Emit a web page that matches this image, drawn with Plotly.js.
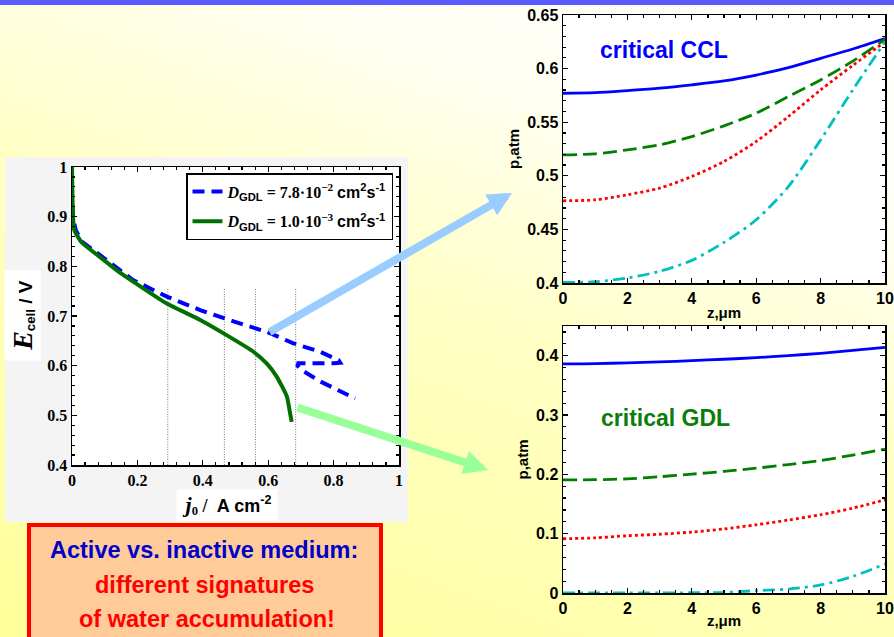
<!DOCTYPE html>
<html><head><meta charset="utf-8">
<script src="https://cdn.plot.ly/plotly-3.0.1.min.js"></script>
<style>
html,body{margin:0;padding:0;width:894px;height:637px;overflow:hidden;}
body{background: linear-gradient(200deg, #ffffff 0%, #fffff4 22%, #ffffc4 50%, #ffff99 100%);}
#chart{width:894px;height:637px;}
</style></head><body><div id="chart"></div>
<script>
// ---- Left panel: polarisation curves E_cell(j0) ----
const jBlue = [0, 0, 0.004, 0.012, 0.03, 0.087, 0.137, 0.188, 0.29, 0.392, 0.494, 0.596, 0.677, 0.759, 0.815, 0.82, 0.80, 0.692, 0.69, 0.70, 0.76, 0.866];
const eBlue = [1, 0.93, 0.895, 0.872, 0.85, 0.821, 0.797, 0.772, 0.739, 0.712, 0.689, 0.668, 0.645, 0.628, 0.611, 0.606, 0.605, 0.605, 0.600, 0.592, 0.568, 0.534];
const jGreen = [0, 0.003, 0.007, 0.03, 0.087, 0.137, 0.188, 0.29, 0.392, 0.474, 0.555, 0.596, 0.626, 0.657, 0.667, 0.672];
const eGreen = [1, 0.9, 0.873, 0.848, 0.818, 0.792, 0.769, 0.725, 0.692, 0.661, 0.628, 0.604, 0.578, 0.538, 0.504, 0.487];
const critJ = [0.293, 0.466, 0.561, 0.684];
const critE = [0.4, 0.755];
const nameBlue = '<i>D</i><span style="font-family:Liberation Sans"><sub>GDL</sub></span> = 7.8·10<sup>−2</sup>&nbsp;<span style="font-family:Liberation Sans">cm<sup>2</sup>s<sup>-1</sup></span>';
const nameGreen = '<i>D</i><span style="font-family:Liberation Sans"><sub>GDL</sub></span> = 1.0·10<sup>−3</sup>&nbsp;<span style="font-family:Liberation Sans">cm<sup>2</sup>s<sup>-1</sup></span>';

// ---- Right panels: pressure profiles p(z) ----
const zMicron = [0, 1, 2, 3, 4, 5, 6, 7, 8, 9, 10];
const cclSolid  = [0.577, 0.5776, 0.5795, 0.5817, 0.5848, 0.5885, 0.594, 0.601, 0.6096, 0.6183, 0.628];
const cclDash   = [0.5196, 0.5205, 0.5242, 0.5289, 0.5366, 0.5466, 0.5584, 0.574, 0.5894, 0.607, 0.6273];
const cclDot    = [0.4767, 0.4776, 0.4823, 0.4885, 0.4994, 0.5134, 0.532, 0.5553, 0.5801, 0.603, 0.625];
const cclDashDot= [0.4006, 0.4012, 0.4047, 0.4109, 0.4211, 0.4379, 0.459, 0.49, 0.5335, 0.5801, 0.625];
const gdlSolid  = [0.386, 0.3865, 0.388, 0.3895, 0.3916, 0.394, 0.3966, 0.4, 0.404, 0.4088, 0.414];
const gdlDash   = [0.1907, 0.191, 0.1924, 0.196, 0.2003, 0.205, 0.2104, 0.2165, 0.2233, 0.2325, 0.2424];
const gdlDot    = [0.0914, 0.093, 0.0965, 0.099, 0.1027, 0.108, 0.115, 0.123, 0.1318, 0.143, 0.157];
const gdlDashDot= [0, 0, 0, 0, 0.0005, 0.0008, 0.004, 0.0067, 0.0135, 0.028, 0.049];

const W = 894, H = 637;
const px = v => v / W;
const py = v => 1 - v / H;

const critX = [], critY = [];
critJ.forEach(c => { critX.push(c, c, null); critY.push(critE[0], critE[1], null); });

const styles = [
  {color:'#0000ff', dash:'solid'},
  {color:'#008000', dash:'14px,6px'},
  {color:'#ff0000', dash:'3px,3px'},
  {color:'#00bfbf', dash:'12px,5px,3px,5px'}
];
const cclSets = [cclSolid, cclDash, cclDot, cclDashDot];
const gdlSets = [gdlSolid, gdlDash, gdlDot, gdlDashDot];

const traces = [
  {x: critX, y: critY, mode:'lines', line:{color:'#777', width:1, dash:'1px,1.5px'}, showlegend:false, xaxis:'x', yaxis:'y'},
  {x: jBlue, y: eBlue, mode:'lines', name: nameBlue, legendgroup:'a', line:{color:'#0000ff', width:4, dash:'12px,7px'}, xaxis:'x', yaxis:'y'},
  {x: jGreen, y: eGreen, mode:'lines', name: nameGreen, legendgroup:'b', line:{color:'#007000', width:4, shape:'spline', smoothing:0.5}, xaxis:'x', yaxis:'y'}
];
cclSets.forEach((s,i) => traces.push({x: zMicron, y: s, mode:'lines', showlegend:false,
  line:{color:styles[i].color, width:2.8, dash:styles[i].dash, shape:'spline', smoothing:0.8}, xaxis:'x2', yaxis:'y2'}));
gdlSets.forEach((s,i) => traces.push({x: zMicron, y: s, mode:'lines', showlegend:false,
  line:{color:styles[i].color, width:2.8, dash:styles[i].dash, shape:'spline', smoothing:0.8}, xaxis:'x3', yaxis:'y3'}));

const serifTick = {family:'Liberation Serif', size:16, color:'#000', weight:700};
const sansTick = {family:'Liberation Sans', size:16, color:'#000', weight:700};
const axBase = {showline:true, linecolor:'#000', linewidth:1.5, mirror:'allticks', ticks:'inside', ticklen:5,
  tickwidth:1.2, tickcolor:'#000', showgrid:false, zeroline:false, fixedrange:true};
const ttl = {family:'Liberation Sans', size:15, weight:700, color:'#000'};

function note(x, y, text, font, extra) {
  return Object.assign({xref:'paper', yref:'paper', x:px(x), y:py(y), xanchor:'center', yanchor:'middle',
    showarrow:false, text:text, font:font}, extra || {});
}

const layout = {
  width: W, height: H, margin:{l:0, r:0, t:0, b:0},
  paper_bgcolor:'rgba(0,0,0,0)', plot_bgcolor:'#ffffff',
  font:{family:'Liberation Sans', color:'#000'},
  showlegend:true,
  legend:{x: px(393), xanchor:'right', y: py(173), yanchor:'top', bgcolor:'#ffffff', bordercolor:'#000', borderwidth:1.5,
    font:{family:'Liberation Serif', size:16, color:'#000', weight:700}, tracegroupgap:6},
  xaxis: Object.assign({}, axBase, {domain:[px(72), px(399)], range:[0,1], dtick:0.2, tick0:0, anchor:'y',
    tickfont: serifTick, minor:{dtick:0.04, ticks:'inside', ticklen:3, tickcolor:'#000'}}),
  yaxis: Object.assign({}, axBase, {domain:[py(465), py(167)], range:[0.4,1], dtick:0.1, tick0:0, anchor:'x',
    tickfont: serifTick, minor:{dtick:0.02, ticks:'inside', ticklen:3, tickcolor:'#000'}}),
  xaxis2: Object.assign({}, axBase, {domain:[px(563), px(885)], range:[0,10], dtick:2, tick0:0, anchor:'y2',
    tickfont: sansTick, minor:{dtick:0.5, ticks:'inside', ticklen:3, tickcolor:'#000'},
    title:{text:'z,μm', font:ttl, standoff:2}}),
  yaxis2: Object.assign({}, axBase, {domain:[py(283), py(15)], range:[0.4,0.65], dtick:0.05, tick0:0, anchor:'x2',
    tickfont: sansTick, minor:{dtick:0.01, ticks:'inside', ticklen:3, tickcolor:'#000'},
    title:{text:'p,atm', font:ttl, standoff:4}}),
  xaxis3: Object.assign({}, axBase, {domain:[px(563), px(885)], range:[0,10], dtick:2, tick0:0, anchor:'y3',
    tickfont: sansTick, minor:{dtick:0.5, ticks:'inside', ticklen:3, tickcolor:'#000'},
    title:{text:'z,μm', font:ttl, standoff:0}}),
  yaxis3: Object.assign({}, axBase, {domain:[py(593), py(326)], range:[0,0.45], dtick:0.1, tick0:0, anchor:'x3',
    tickfont: sansTick, minor:{dtick:0.02, ticks:'inside', ticklen:3, tickcolor:'#000'},
    title:{text:'p,atm', font:ttl, standoff:4}}),
  shapes: [
    {type:'rect', xref:'paper', yref:'paper', x0:0, x1:1, y0:py(5), y1:1, fillcolor:'#5a5aff', line:{width:0}, layer:'below'},
    {type:'rect', xref:'paper', yref:'paper', x0:px(5), x1:px(408), y0:py(522), y1:py(157), fillcolor:'#f4f4f4', line:{width:0}, layer:'below'},
    {type:'rect', xref:'paper', yref:'paper', x0:px(72), x1:px(399), y0:py(465), y1:py(167), fillcolor:'#ffffff', line:{width:0}, layer:'below'},
    {type:'rect', xref:'paper', yref:'paper', x0:px(29), x1:px(381), y0:py(645), y1:py(525), fillcolor:'#ffcc99', line:{color:'#ff0000', width:4}, layer:'above'}
  ],
  annotations: [
    note(22.5, 315.5, '<span style="font-family:Liberation Serif;font-size:28px;font-style:italic">E</span><sub>cell</sub> / V',
      {family:'Liberation Sans', size:19, weight:700, color:'#000'},
      {textangle:-90, bgcolor:'#ffffff', width:89, height:35, borderpad:0}),
    note(227, 505, '<span style="font-family:Liberation Serif;font-style:italic;font-size:22px">j</span><span style="font-family:Liberation Serif"><sub>0</sub> /</span>&nbsp; A cm<sup>-2</sup>',
      {family:'Liberation Sans', size:18, weight:700, color:'#000'},
      {bgcolor:'#ffffff', width:100, height:30, borderpad:0}),
    note(664, 50, 'critical CCL', {family:'Liberation Sans', size:23, weight:700, color:'#0000ff'}),
    note(665, 418, 'critical GDL', {family:'Liberation Sans', size:23, weight:700, color:'#0a7d0a'}),
    note(204, 550, 'Active vs. inactive medium:', {family:'Liberation Sans', size:23.5, weight:700, color:'#0000c8'}),
    note(204, 585, 'different signatures', {family:'Liberation Sans', size:23.5, weight:700, color:'#ff0000'}),
    note(207, 619, 'of water accumulation!', {family:'Liberation Sans', size:23.5, weight:700, color:'#ff0000'}),
    {xref:'paper', yref:'paper', x:px(512), y:py(193), text:'', showarrow:true, arrowhead:2, arrowsize:0.6, arrowwidth:8,
      arrowcolor:'#99ccff', ax:-244, ay:140, standoff:0, startstandoff:0},
    {xref:'paper', yref:'paper', x:px(488), y:py(470), text:'', showarrow:true, arrowhead:2, arrowsize:0.6, arrowwidth:8,
      arrowcolor:'#99ff99', ax:-192, ay:-63, standoff:0, startstandoff:0}
  ]
};

Plotly.newPlot('chart', traces, layout, {staticPlot:true, displayModeBar:false});
</script></body></html>
